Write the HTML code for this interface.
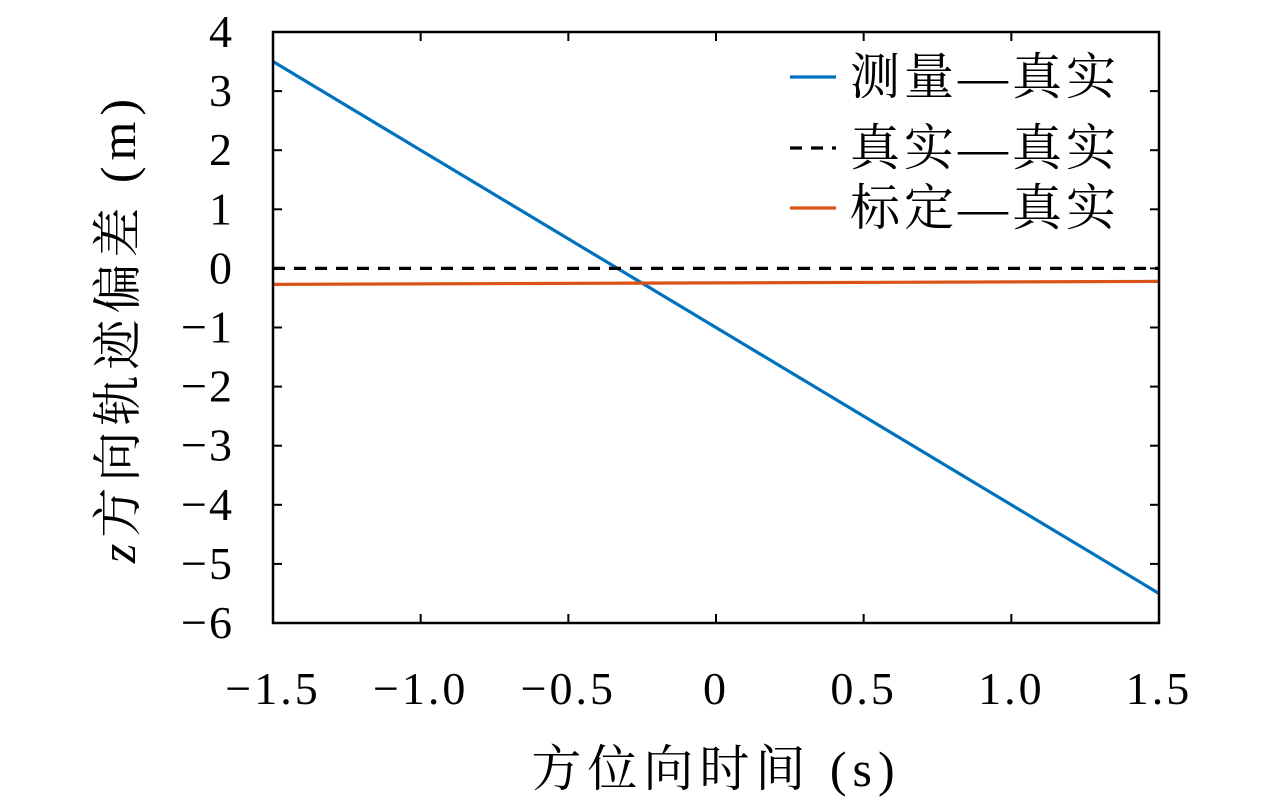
<!DOCTYPE html>
<html><head><meta charset="utf-8"><style>
body{margin:0;background:#fff}
svg text{font-family:"Liberation Serif","Noto Serif CJK SC",serif;fill:#000}
</style></head><body>
<svg width="1280" height="803">
<g id="g"></g>
</svg>
<script>
const xTicks=[-1.5,-1.0,-0.5,0,0.5,1.0,1.5];
const xTickLabels=["−1.5","−1.0","−0.5","0","0.5","1.0","1.5"];
const yTicks=[4,3,2,1,0,-1,-2,-3,-4,-5,-6];
const yTickLabels=["4","3","2","1","0","−1","−2","−3","−4","−5","−6"];
const seriesX=[-1.5,1.5];
const measured=[3.5,-5.5];
const truth=[0,0];
const calibrated=[-0.27,-0.22];
const L=273,R=1159,T=32,B=623;
const sx=v=>L+(v+1.5)/3*(R-L);
const sy=v=>T+(4-v)/10*(B-T);
const NS="http://www.w3.org/2000/svg";
const g=document.getElementById('g');
function mk(t,a,txt){const e=document.createElementNS(NS,t);for(const k in a)e.setAttribute(k,a[k]);if(txt!=null)e.textContent=txt;g.appendChild(e);return e;}
xTicks.forEach((v,i)=>{
 const t1=mk('line',{x1:sx(v),x2:sx(v),y1:B,y2:B-9,stroke:'#000','stroke-width':2});
 
 
 const t2=mk('line',{x1:sx(v),x2:sx(v),y1:T,y2:T+9,stroke:'#000','stroke-width':2});
 
 
 const lb=mk('text',{x:sx(v),y:704,'font-size':46,'text-anchor':'middle','letter-spacing':3},xTickLabels[i]);
 
 
});
yTicks.forEach((v,i)=>{
 const t1=mk('line',{x1:L,x2:L+9,y1:sy(v),y2:sy(v),stroke:'#000','stroke-width':2});
 
 
 const t2=mk('line',{x1:R,x2:R-9,y1:sy(v),y2:sy(v),stroke:'#000','stroke-width':2});
 
 
 const lb=mk('text',{x:234,y:sy(v)+15,'font-size':46,'text-anchor':'end','letter-spacing':2},yTickLabels[i]);
 
 
});
function series(arr,color,dash,name){
 const e=mk('line',{x1:sx(seriesX[0]),y1:sy(arr[0]),x2:sx(seriesX[1]),y2:sy(arr[1]),stroke:color,'stroke-width':3.2});
 if(dash)e.setAttribute('stroke-dasharray','12 9');
 
 
}
series(measured,'#0072BD',false,'measured-line');
series(truth,'#000',true,'truth-line');
series(calibrated,'#D95319',false,'calibrated-line');
const box=mk('rect',{x:L,y:T,width:R-L,height:B-T,fill:'none',stroke:'#000','stroke-width':2.5});


const leg=[["测量—真实",'#0072BD',false,77],["真实—真实",'#000',true,148],["标定—真实",'#D95319',false,208]];
leg.forEach(l=>{
 const ln=mk('line',{x1:790,x2:836,y1:l[3],y2:l[3],stroke:l[1],'stroke-width':3.2});
 if(l[2])ln.setAttribute('stroke-dasharray','12 9');
 
 
 const t=mk('text',{x:850,y:l[3]+17,'font-size':50,'letter-spacing':4},l[0]);
 
 
});
const xt=mk('text',{x:716,y:786,'font-size':50,'text-anchor':'middle','letter-spacing':6},"方位向时间 (s)");


const yt=mk('text',{x:0,y:0,'font-size':50,'text-anchor':'middle','letter-spacing':6,transform:'translate(135,328) rotate(-90)'});
yt.innerHTML='<tspan font-style="italic">z</tspan>方向轨迹偏差 (m)';


</script>
</body></html>
